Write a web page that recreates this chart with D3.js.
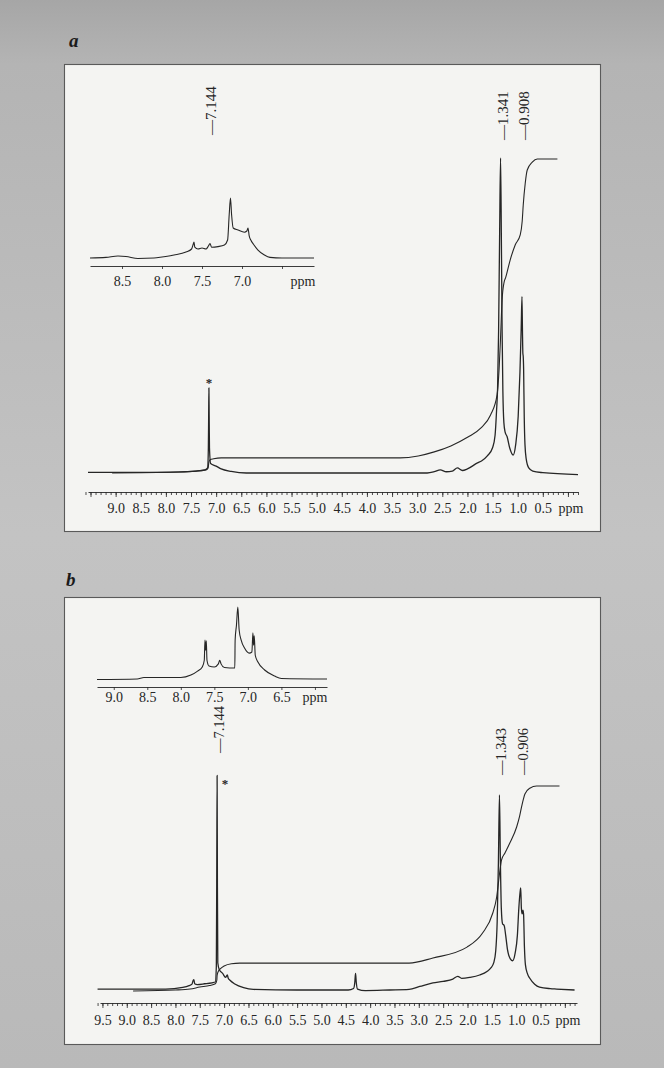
<!DOCTYPE html>
<html><head><meta charset="utf-8">
<script src="https://cdn.jsdelivr.net/npm/d3@7"></script>
<style>
html,body{margin:0;padding:0;background:#bdbdbd;}
svg{display:block;}
</style></head><body>
<svg id="c" width="664" height="1068"></svg>
<script>
// ---------------- DATA ----------------
const axisLabelsA = ["9.0","8.5","8.0","7.5","7.0","6.5","6.0","5.5","5.0","4.5","4.0","3.5","3.0","2.5","2.0","1.5","1.0","0.5"];
const axisLabelsB = ["9.5","9.0","8.5","8.0","7.5","7.0","6.5","6.0","5.5","5.0","4.5","4.0","3.5","3.0","2.5","2.0","1.5","1.0","0.5"];
const insetLabelsA = ["8.5","8.0","7.5","7.0"];
const insetTicksA = [8.5, 8.0, 7.5, 7.0, 6.5];
const insetLabelsB = ["9.0","8.5","8.0","7.5","7.0","6.5"];
const insetTicksB = [9.0, 8.5, 8.0, 7.5, 7.0, 6.5, 6.0];
const peakLabelsA = ["7.144","1.341","0.908"];
const peakLabelsB = ["7.144","1.343","0.906"];
const solventShift = 7.144;

// [ppm, relative intensity (% of tallest main peak)]
const spectrumA = [[9.55,0.2],[8.5,0.2],[7.8,0.3],[7.4,0.6],[7.22,1.0],[7.17,1.6],[7.155,8],[7.149,18],[7.144,27],[7.139,18],[7.133,8],[7.11,3.0],[7.0,2.2],[6.9,1.3],[6.7,0.5],[6.4,0],[4.0,0],[2.8,0],[2.66,0.4],[2.54,1.0],[2.42,0.4],[2.3,0.6],[2.2,1.6],[2.1,0.8],[2.0,1.3],[1.8,3.2],[1.72,3.8],[1.6,5.5],[1.5,8],[1.45,12],[1.42,20],[1.40,27],[1.38,45],[1.36,75],[1.341,100],[1.325,75],[1.31,45],[1.295,26],[1.275,16],[1.25,13],[1.21,11.5],[1.16,8],[1.09,5.7],[1.04,9],[0.99,18],[0.955,32],[0.93,46],[0.915,56],[0.905,45],[0.897,38],[0.89,37],[0.882,33],[0.87,18],[0.855,9],[0.83,4.4],[0.78,1.6],[0.7,0.6],[0.5,0.1],[-0.2,-0.5]];
const integralA = [[9.07,0],[7.8,0.3],[7.4,0.6],[7.2,1.0],[7.16,1.6],[7.144,3.5],[7.12,4.2],[7.05,4.5],[6.9,4.8],[6.7,4.8],[3.34,4.8],[2.98,5.4],[2.66,6.7],[2.33,8.6],[1.99,11.4],[1.73,14.3],[1.54,18.4],[1.41,24.8],[1.37,33],[1.341,43],[1.31,55],[1.27,60.6],[1.24,62],[1.15,67.6],[1.05,72.4],[0.95,75.6],[0.91,80],[0.89,85],[0.85,92],[0.81,96.2],[0.71,98.7],[0.61,99.7],[0.21,99.7]];
const insetSpectrumA = [[8.9,0],[8.7,1],[8.55,3.3],[8.45,2.5],[8.3,-0.8],[8.1,0],[8.0,1.7],[7.85,5],[7.7,10],[7.63,15],[7.61,23],[7.6,26.7],[7.59,18],[7.55,15],[7.5,16.7],[7.45,15],[7.42,20],[7.4,24],[7.38,18],[7.3,19],[7.22,21.7],[7.18,30],[7.16,72],[7.144,100],[7.13,72],[7.11,50],[7.05,46.7],[6.97,43],[6.94,45],[6.925,50],[6.91,36.7],[6.89,30],[6.85,21.7],[6.8,13.3],[6.72,5],[6.65,1],[6.5,0],[6.1,0]];
const spectrumB = [[9.6,0.5],[8.2,0.5],[7.85,1.3],[7.72,2.2],[7.66,3],[7.635,5],[7.62,5.3],[7.605,3.2],[7.55,2.8],[7.4,3.2],[7.25,3.7],[7.18,4.1],[7.16,12],[7.152,55],[7.144,110],[7.138,55],[7.13,14],[7.1,10.5],[7.03,8.5],[6.97,6.5],[6.935,7.7],[6.915,6],[6.88,5],[6.78,3.1],[6.6,1.2],[6.4,0.3],[5.5,0],[4.45,0],[4.34,0.8],[4.315,4],[4.30,8.5],[4.285,4],[4.26,0.5],[4.1,-0.3],[3.6,0],[3.2,0.3],[2.98,1.8],[2.71,3.6],[2.5,4.4],[2.3,5.6],[2.2,7.0],[2.12,6.0],[1.95,6.5],[1.75,7.7],[1.6,9.5],[1.52,11.3],[1.46,14],[1.42,20],[1.39,35],[1.365,65],[1.343,100],[1.325,68],[1.305,42],[1.28,34],[1.245,33],[1.215,28],[1.18,21],[1.12,16],[1.07,15],[1.02,19],[0.975,28],[0.945,42],[0.92,50],[0.906,52.3],[0.893,42],[0.877,39],[0.862,41],[0.848,39],[0.83,22],[0.81,13],[0.77,8.5],[0.72,6],[0.62,3],[0.52,1.5],[0.3,0.7],[0.17,0.5],[-0.2,0]];
const integralB = [[8.87,-0.5],[8.0,0],[7.7,0.5],[7.5,1.5],[7.3,2.3],[7.18,3.2],[7.15,5],[7.144,7.5],[7.12,9.5],[7.08,10.8],[7.0,12.3],[6.85,13.5],[6.68,13.8],[3.2,13.8],[2.71,16.4],[2.01,22],[1.69,29.2],[1.48,39.5],[1.40,47.7],[1.34,60],[1.30,66.7],[1.23,70.3],[1.13,75.4],[0.99,83.6],[0.93,89],[0.89,93.8],[0.85,98],[0.82,100.5],[0.72,103.5],[0.58,104.6],[0.11,104.6]];
const insetSpectrumB = [[9.25,-0.7],[8.65,0],[8.55,2],[8.0,2],[7.85,5.5],[7.75,11],[7.68,16.7],[7.65,26],[7.64,54],[7.63,40],[7.62,53],[7.61,26],[7.58,18],[7.5,16.7],[7.44,21],[7.42,26],[7.40,21],[7.35,16],[7.195,15.3],[7.19,54],[7.17,75],[7.15,100],[7.13,68],[7.10,54],[7.05,43],[6.98,36],[6.94,37.5],[6.925,64],[6.915,47],[6.905,60],[6.89,33],[6.85,23.6],[6.75,12.5],[6.6,4],[6.5,0.7],[5.82,0]];

// ---------------- DRAW ----------------
const svg = d3.select("#c");
const FONT = "'Liberation Serif','DejaVu Serif',serif";
const INK = "#262626";

const defs = svg.append("defs");
const bg = defs.append("linearGradient").attr("id","bg").attr("x1",0).attr("y1",0).attr("x2",0).attr("y2",1);
[[0,"#a6a6a6"],[0.06,"#b4b4b4"],[0.5,"#c3c3c3"],[1,"#b9b9b9"]].forEach(([o,c]) => bg.append("stop").attr("offset",o).attr("stop-color",c));
svg.append("rect").attr("width",664).attr("height",1068).attr("fill","url(#bg)");

function panelBox(x, y, w, h){
  svg.append("rect").attr("x",x+0.5).attr("y",y+0.5).attr("width",w).attr("height",h)
    .attr("fill","#f4f4f2").attr("stroke","#5a5a5a").attr("stroke-width",1.1);
}
function panelLetter(t, x, y){
  svg.append("text").attr("x",x).attr("y",y).text(t)
    .attr("font-family",FONT).attr("font-size",19).attr("font-weight","bold").attr("font-style","italic").attr("fill","#1a1a1a");
}
function styleAxis(g, fs){
  g.select(".domain").attr("stroke",INK).attr("stroke-width",0.9);
  g.selectAll(".tick line").attr("stroke",INK).attr("stroke-width",0.8);
  g.selectAll("text").attr("font-family",FONT).attr("font-size",fs).attr("fill",INK);
  g.attr("font-family",null).attr("font-size",null);
}
function mainAxis(x, y0, labels, pad, fs){
  const lo = Math.round(x.domain()[1]*10), hi = Math.round(x.domain()[0]*10);
  const minors = d3.range(hi, lo-1, -1).map(d => d/10);
  const majors = minors.filter(d => Math.abs(d*2 - Math.round(d*2)) < 1e-6);
  const set = new Set(labels);
  const gm = svg.append("g").attr("transform",`translate(0,${y0})`)
    .call(d3.axisBottom(x).tickValues(minors).tickSize(3).tickSizeOuter(0).tickFormat(""));
  styleAxis(gm, fs);
  const gM = svg.append("g").attr("transform",`translate(0,${y0})`)
    .call(d3.axisBottom(x).tickValues(majors).tickSize(5).tickSizeOuter(0).tickPadding(pad)
      .tickFormat(d => set.has(d.toFixed(1)) ? d.toFixed(1) : ""));
  styleAxis(gM, fs);
  gM.select(".domain").remove();
  svg.append("text").attr("x",x(0)+3).attr("y",y0+5+pad).attr("dy","0.71em").attr("text-anchor","middle")
    .attr("font-family",FONT).attr("font-size",fs).attr("fill",INK).text("ppm");
}
function insetAxis(x, y0, ticks, labels, pad, fs, ppmX){
  const set = new Set(labels);
  const g = svg.append("g").attr("transform",`translate(0,${y0})`)
    .call(d3.axisBottom(x).tickValues(ticks).tickSize(3).tickSizeOuter(0).tickPadding(pad)
      .tickFormat(d => set.has(d.toFixed(1)) ? d.toFixed(1) : ""));
  styleAxis(g, fs);
  svg.append("text").attr("x",ppmX).attr("y",y0+3+pad).attr("dy","0.71em").attr("text-anchor","middle")
    .attr("font-family",FONT).attr("font-size",fs).attr("fill",INK).text("ppm");
}
function trace(data, x, y, w){
  const line = d3.line().x(d => x(d[0])).y(d => y(d[1])).curve(d3.curveMonotoneX);
  svg.append("path").attr("d", line(data)).attr("fill","none").attr("stroke",INK)
    .attr("stroke-width",w).attr("stroke-linejoin","round");
}
function peakLabels(labels, x, bottoms, fs){
  labels.forEach((t,i) => {
    const px = x(+t) + 2, py = bottoms[i];
    svg.append("text").attr("transform",`translate(${px},${py}) rotate(-90)`)
      .attr("dominant-baseline","central").attr("text-anchor","start")
      .attr("font-family",FONT).attr("font-size",fs).attr("fill",INK).text("\u2014" + t);
  });
}
function asterisk(x, y){
  svg.append("text").attr("x",x).attr("y",y).attr("text-anchor","middle").attr("dominant-baseline","central")
    .attr("font-family",FONT).attr("font-size",13).attr("font-weight","bold").attr("fill",INK).text("*");
}

// ----- panel a -----
panelLetter("a", 69, 47);
panelBox(64, 64, 536, 467);
const xA = d3.scaleLinear().domain([9.55, -0.2]).range([88, 578]);
const yA = d3.scaleLinear().domain([0, 100]).range([473, 158]);
mainAxis(xA, 492, axisLabelsA, 6, 14);
trace(integralA, xA, yA, 1.1);
trace(spectrumA, xA, yA, 1.3);
peakLabels(peakLabelsA, xA, [135, 140, 140], 15);
asterisk(xA(solventShift), 382);

const xIA = d3.scaleLinear().domain([8.9, 6.1]).range([90, 314]);
const yIA = d3.scaleLinear().domain([0, 100]).range([258, 198]);
insetAxis(xIA, 266, insetTicksA, insetLabelsA, 7, 14, 303);
trace(insetSpectrumA, xIA, yIA, 1.1);

// ----- panel b -----
panelLetter("b", 66, 586);
panelBox(64, 597, 536, 447);
const xB = d3.scaleLinear().domain([9.55, -0.25]).range([100, 577]);
const yB = d3.scaleLinear().domain([0, 100]).range([990, 795]);
mainAxis(xB, 1003, axisLabelsB, 7, 14);
trace(integralB, xB, yB, 1.1);
trace(spectrumB, xB, yB, 1.3);
peakLabels(peakLabelsB, xB, [753, 775, 775], 14.5);
asterisk(xB(solventShift) + 8, 783);

const xIB = d3.scaleLinear().domain([9.25, 5.82]).range([97, 327]);
const yIB = d3.scaleLinear().domain([0, 100]).range([679, 607]);
insetAxis(xIB, 687, insetTicksB, insetLabelsB, 2, 14, 315);
trace(insetSpectrumB, xIB, yIB, 1.1);
</script>
</body></html>
